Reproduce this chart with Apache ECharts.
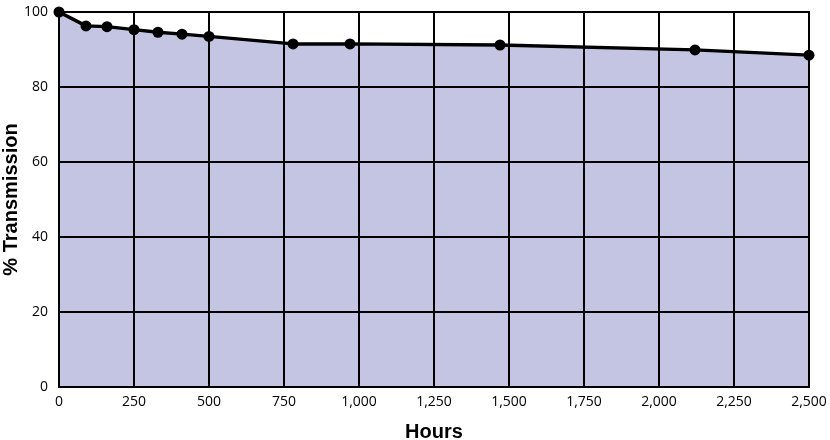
<!DOCTYPE html>
<html>
<head>
<meta charset="utf-8">
<script src="https://cdn.jsdelivr.net/npm/echarts@6/dist/echarts.min.js"></script>
<style>
html,body{margin:0;padding:0;background:#fff;}
#c{width:830px;height:440px;}
</style>
</head>
<body>
<div id="c"></div>
<script>
var hours = [0, 90, 160, 250, 330, 410, 500, 780, 970, 1470, 2120, 2500];
var transmission = [100, 96.3, 96.1, 95.3, 94.6, 94.1, 93.5, 91.5, 91.5, 91.2, 89.9, 88.5];
var xTicks = [0, 250, 500, 750, 1000, 1250, 1500, 1750, 2000, 2250, 2500];
var yTicks = [0, 20, 40, 60, 80, 100];

var pts = hours.map(function (h, i) { return [h, transmission[i]]; });
var chart = echarts.init(document.getElementById('c'), null, {renderer: 'canvas'});
var labelFont = '"Open Sans", "Noto Sans", sans-serif';
chart.setOption({
  animation: false,
  grid: {left: 59, right: 21, top: 12, bottom: 53, containLabel: false, outerBoundsMode: 'none',
         show: true, borderColor: '#000', borderWidth: 2, z: 4},
  xAxis: {
    type: 'value', min: 0, max: 2500, interval: 250, z: 3,
    name: 'Hours', nameLocation: 'middle', nameGap: 35, nameMoveOverlap: false,
    nameTextStyle: {fontFamily: '"Liberation Sans", Arial, sans-serif', fontWeight: 'bold', fontSize: 20, color: '#000'},
    axisLine: {show: true, lineStyle: {color: '#000', width: 2}},
    axisTick: {show: false},
    splitLine: {show: true, lineStyle: {color: '#000', width: 2}},
    axisLabel: {
      margin: 8, color: '#000', fontSize: 14, fontFamily: labelFont,
      formatter: function (v) { return xTicks.indexOf(v) >= 0 ? v.toLocaleString('en-US') : ''; }
    }
  },
  yAxis: {
    type: 'value', min: 0, max: 100, interval: 20, z: 3,
    name: '% Transmission', nameLocation: 'middle', nameGap: 38, nameRotate: 90, nameMoveOverlap: false,
    nameTextStyle: {fontFamily: '"Liberation Sans", Arial, sans-serif', fontWeight: 'bold', fontSize: 20, color: '#000'},
    axisLine: {show: true, lineStyle: {color: '#000', width: 2}},
    axisTick: {show: false},
    splitLine: {show: true, lineStyle: {color: '#000', width: 2}},
    axisLabel: {
      margin: 11, color: '#000', fontSize: 14, fontFamily: labelFont,
      formatter: function (v) { return yTicks.indexOf(v) >= 0 ? String(v) : ''; }
    }
  },
  series: [
    {
      type: 'line', data: pts, z: 1, silent: true,
      showSymbol: false, symbol: 'none',
      lineStyle: {width: 0, opacity: 0},
      areaStyle: {color: '#c3c5e2', opacity: 1}
    },
    {
      type: 'line', data: pts, z: 5,
      symbol: 'circle', symbolSize: 11, showSymbol: true,
      itemStyle: {color: '#000'},
      lineStyle: {color: '#000', width: 3.5}
    }
  ]
});
</script>
</body>
</html>
